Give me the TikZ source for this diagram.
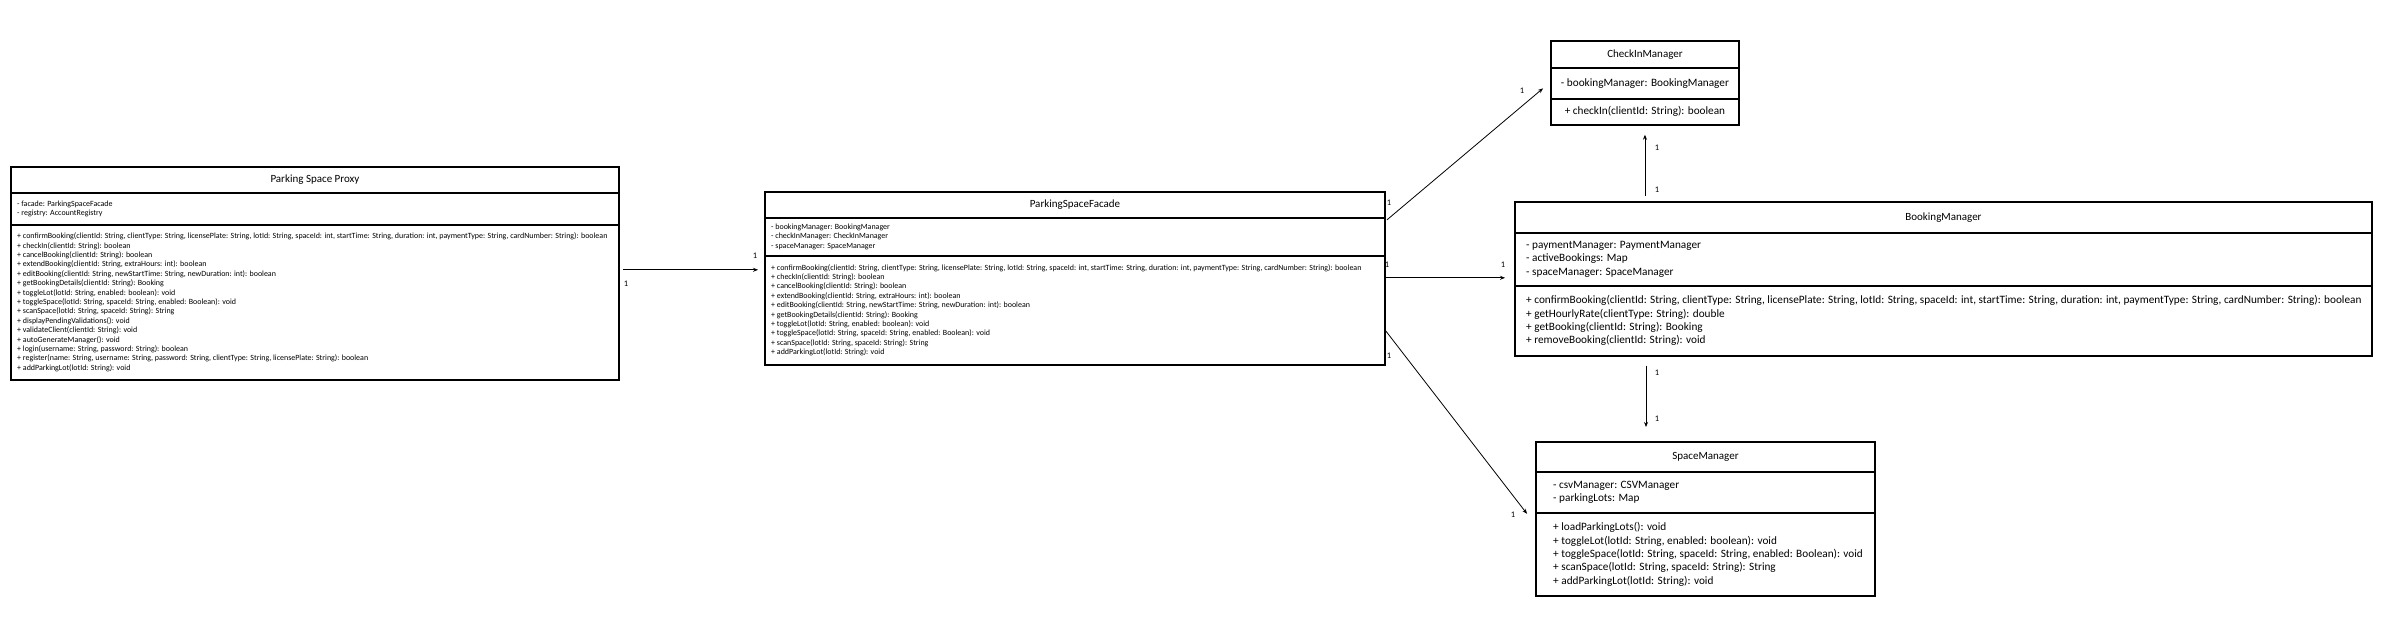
\documentclass[tikz,border=0pt]{standalone}
\usepackage{fontspec}
\setmainfont{Carlito}
\usepackage{tikz}
\usetikzlibrary{arrows.meta,positioning,calc}

\newcommand{\confirmsig}{+ confirmBooking(clientId: String, clientType: String, licensePlate: String, lotId: String, spaceId: int, startTime: String, duration: int, paymentType: String, cardNumber: String): boolean}

\begin{document}
\begin{tikzpicture}[x=1pt, y=-1pt,
  classhead/.style={draw, line width=0.9pt, inner sep=0pt, anchor=north west, font=\fontsize{11}{13}\selectfont},
  classpart/.style={draw, line width=0.9pt, inner sep=0pt, anchor=north},
  smalltext/.style={align=left, inner sep=0pt, anchor=west, font=\fontsize{7.95}{9.4}\selectfont},
  bigtext/.style={align=left, inner sep=0pt, anchor=west, font=\fontsize{11.25}{13.3}\selectfont},
  frame/.style={line width=1.8pt},
  assoc/.style={-{Stealth[length=5pt,width=4pt]}, line width=0.8pt},
  mult/.style={font=\fontsize{8.5}{9}\selectfont, inner sep=0pt}
  ]

  \fill[white] (0,0) rectangle (2390,617);
  \useasboundingbox (0,0) rectangle (2390,617);

  % Proxy
  \node[classhead, minimum width=607pt, minimum height=25pt] (proxyT) at (11,167) {Parking Space Proxy};
  \node[classpart, minimum width=607pt, minimum height=31pt, below=0pt of proxyT] (proxyA) {};
  \node[classpart, minimum width=607pt, minimum height=154pt, below=0pt of proxyA] (proxyM) {};
  \node[smalltext, right=6pt of proxyA.west] (proxyAtxt) {- facade: ParkingSpaceFacade\\- registry: AccountRegistry};
  \node[smalltext, right=6pt of proxyM.west] (proxyMtxt) {\confirmsig\\
    + checkIn(clientId: String): boolean\\
    + cancelBooking(clientId: String): boolean\\
    + extendBooking(clientId: String, extraHours: int): boolean\\
    + editBooking(clientId: String, newStartTime: String, newDuration: int): boolean\\
    + getBookingDetails(clientId: String): Booking\\
    + toggleLot(lotId: String, enabled: boolean): void\\
    + toggleSpace(lotId: String, spaceId: String, enabled: Boolean): void\\
    + scanSpace(lotId: String, spaceId: String): String\\
    + displayPendingValidations(): void\\
    + validateClient(clientId: String): void\\
    + autoGenerateManager(): void\\
    + login(username: String, password: String): boolean\\
    + register(name: String, username: String, password: String, clientType: String, licensePlate: String): boolean\\
    + addParkingLot(lotId: String): void};

  % Facade
  \node[classhead, minimum width=619pt, minimum height=25pt] (facadeT) at (765,192) {ParkingSpaceFacade};
  \node[classpart, minimum width=619pt, minimum height=37pt, below=0pt of facadeT] (facadeA) {};
  \node[classpart, minimum width=619pt, minimum height=108pt, below=0pt of facadeA] (facadeM) {};
  \node[smalltext, right=6pt of facadeA.west] (facadeAtxt) {- bookingManager: BookingManager\\- checkInManager: CheckInManager\\- spaceManager: SpaceManager};
  \node[smalltext, right=6pt of facadeM.west] (facadeMtxt) {\confirmsig\\
    + checkIn(clientId: String): boolean\\
    + cancelBooking(clientId: String): boolean\\
    + extendBooking(clientId: String, extraHours: int): boolean\\
    + editBooking(clientId: String, newStartTime: String, newDuration: int): boolean\\
    + getBookingDetails(clientId: String): Booking\\
    + toggleLot(lotId: String, enabled: boolean): void\\
    + toggleSpace(lotId: String, spaceId: String, enabled: Boolean): void\\
    + scanSpace(lotId: String, spaceId: String): String\\
    + addParkingLot(lotId: String): void};

  % CheckInManager
  \node[classhead, minimum width=187pt, minimum height=26pt] (checkT) at (1551,41) {CheckInManager};
  \node[classpart, minimum width=187pt, minimum height=30pt, below=0pt of checkT, font=\fontsize{11.25}{13}\selectfont] (checkA) {- bookingManager: BookingManager};
  \node[classpart, minimum width=187pt, minimum height=25pt, below=0pt of checkA, font=\fontsize{11.25}{13}\selectfont] (checkM) {+ checkIn(clientId: String): boolean};

  % BookingManager
  \node[classhead, minimum width=856pt, minimum height=30pt] (bookT) at (1515,202) {BookingManager};
  \node[classpart, minimum width=856pt, minimum height=52pt, below=0pt of bookT] (bookA) {};
  \node[classpart, minimum width=856pt, minimum height=69pt, below=0pt of bookA] (bookM) {};
  \node[bigtext, right=11pt of bookA.west] (bookAtxt) {- paymentManager: PaymentManager\\- activeBookings: Map\\- spaceManager: SpaceManager};
  \node[bigtext, right=11pt of bookM.west] (bookMtxt) {\confirmsig\\
    + getHourlyRate(clientType: String): double\\
    + getBooking(clientId: String): Booking\\
    + removeBooking(clientId: String): void};

  % SpaceManager
  \node[classhead, minimum width=338pt, minimum height=29pt] (spaceT) at (1536,442) {SpaceManager};
  \node[classpart, minimum width=338pt, minimum height=40pt, below=0pt of spaceT] (spaceA) {};
  \node[classpart, minimum width=338pt, minimum height=82pt, below=0pt of spaceA] (spaceM) {};
  \node[bigtext, right=17pt of spaceA.west] (spaceAtxt) {- csvManager: CSVManager\\- parkingLots: Map};
  \node[bigtext, right=17pt of spaceM.west] (spaceMtxt) {+ loadParkingLots(): void\\
    + toggleLot(lotId: String, enabled: boolean): void\\
    + toggleSpace(lotId: String, spaceId: String, enabled: Boolean): void\\
    + scanSpace(lotId: String, spaceId: String): String\\
    + addParkingLot(lotId: String): void};

  % Frames
  \draw[frame] (proxyT.north west) rectangle (proxyM.south east);
  \draw[frame] (facadeT.north west) rectangle (facadeM.south east);
  \draw[frame] (checkT.north west) rectangle (checkM.south east);
  \draw[frame] (bookT.north west) rectangle (bookM.south east);
  \draw[frame] (spaceT.north west) rectangle (spaceM.south east);

  % Associations
  \draw[assoc, shorten >=7pt] ([xshift=4pt,yshift=-45pt]proxyM.north east) -- ([yshift=-14pt]facadeM.north west)
    node[mult, at start, xshift=3pt, yshift=-14pt] (m1) {1}
    node[mult, at end, xshift=-10pt, yshift=14pt] (m2) {1};
  \draw[assoc] ([xshift=2pt,yshift=-2pt]facadeT.south east) -- ([xshift=-8pt,yshift=-5pt]checkA.west)
    node[mult, at start, xshift=2pt, yshift=17pt] (m3) {1}
    node[mult, at end, xshift=-21pt, yshift=-2pt] (m4) {1};
  \draw[assoc, shorten >=10pt] ([yshift=-22pt]facadeM.north east) -- ([yshift=-22pt]facadeM.north east -| bookA.west)
    node[mult, at start, xshift=2pt, yshift=13pt] (m5) {1}
    node[mult, at end, xshift=-12pt, yshift=13pt] (m6) {1};
  \draw[assoc] ([yshift=-74pt]facadeM.north east) -- ([xshift=-9pt,yshift=-1pt]spaceM.north west)
    node[mult, at start, xshift=4pt, yshift=-26pt] (m7) {1}
    node[mult, at end, xshift=-14pt, yshift=-1pt] (m8) {1};

  \coordinate (bcStart) at ([yshift=6pt]bookT.north -| checkM.south);
  \draw[assoc] (bcStart) -- ([yshift=-10pt]checkM.south)
    node[mult, at start, xshift=12pt, yshift=6pt] (m9) {1}
    node[mult, at end, xshift=12pt, yshift=-13pt] (m10) {1};
  \coordinate (bsStart) at ([xshift=131pt,yshift=-10pt]bookM.south west);
  \draw[assoc, shorten >=15pt] (bsStart) -- (bsStart |- spaceT.north)
    node[mult, at start, xshift=11pt, yshift=-7pt] (m11) {1}
    node[mult, at end, xshift=11pt, yshift=23pt] (m12) {1};

\end{tikzpicture}
\end{document}
